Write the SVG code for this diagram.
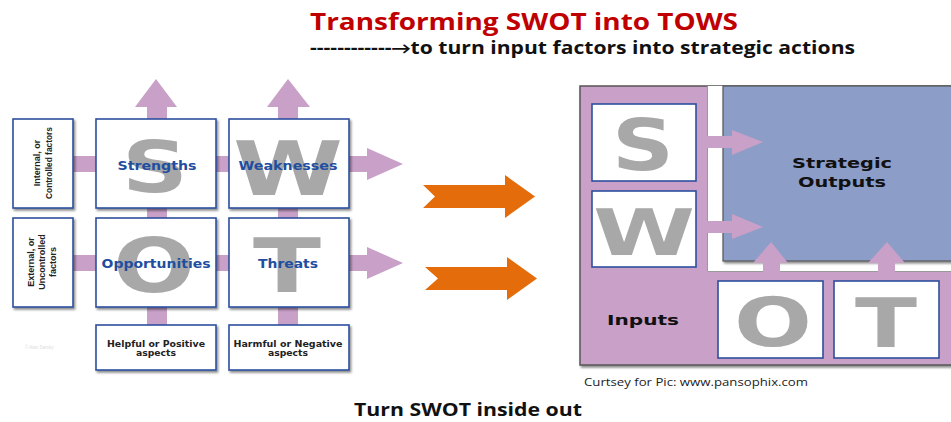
<svg xmlns="http://www.w3.org/2000/svg" width="951" height="422" viewBox="0 0 951 422">
<defs>
<filter id="sh" x="-10%" y="-10%" width="125%" height="125%">
<feDropShadow dx="1.5" dy="2" stdDeviation="1.2" flood-color="#000" flood-opacity="0.45"/>
</filter>
<style>
.box{fill:#fff;stroke:#2e4f9e;stroke-width:1.6}
.pur{fill:#c8a0c8}
.org{fill:#e46c0a}
.big{font-family:"DejaVu Sans",Verdana,sans-serif;font-weight:bold;fill:#a8a8a8;text-anchor:middle}
.lbl{font-family:"DejaVu Sans",Verdana,sans-serif;font-weight:bold;fill:#1f4ea0;font-size:13px;text-anchor:middle}
.sm{font-family:"DejaVu Sans",Verdana,sans-serif;font-weight:bold;fill:#222;font-size:8px;text-anchor:middle}
.vt{font-family:"Liberation Sans",Arial,sans-serif;font-weight:bold;fill:#222;font-size:9px;text-anchor:middle}
.rt{font-family:"DejaVu Sans",Verdana,sans-serif;font-weight:bold;fill:#111;font-size:14px;text-anchor:middle}
.hd{font-family:"Open Sans",Calibri,sans-serif;font-weight:bold}
</style>
</defs>
<rect width="951" height="422" fill="#fff"/>

<!-- titles -->
<text class="hd" x="310" y="30" font-size="23" fill="#c00000" textLength="428" lengthAdjust="spacingAndGlyphs">Transforming SWOT into TOWS</text>
<text class="hd" x="310" y="54" font-size="17" fill="#111" textLength="545" lengthAdjust="spacingAndGlyphs">------------→to turn input factors into strategic actions</text>

<!-- left SWOT connectors -->
<g id="connectors-left">
<rect class="pur" x="60" y="156" width="308" height="16"/>
<polygon class="pur" points="367,148 403,164 367,180"/>
<rect class="pur" x="60" y="255" width="308" height="16"/>
<polygon class="pur" points="367,247 403,263 367,279"/>
<rect class="pur" x="147" y="106" width="20" height="222"/>
<polygon class="pur" points="135,107 156,79 177,107"/>
<rect class="pur" x="278" y="106" width="20" height="222"/>
<polygon class="pur" points="267,107 288,79 310,107"/>
</g>

<g id="internal">
<rect class="box" x="13" y="119" width="60" height="89" filter="url(#sh)"/>
<text class="vt" transform="translate(43,163) rotate(-90)"><tspan x="0" y="-3">Internal, or</tspan><tspan x="0" y="9" textLength="72" lengthAdjust="spacingAndGlyphs">Controlled factors</tspan></text>
</g>
<g id="external">
<rect class="box" x="13" y="218" width="60" height="89" filter="url(#sh)"/>
<text class="vt" transform="translate(43,262) rotate(-90)"><tspan x="0" y="-9">External, or</tspan><tspan x="0" y="2">Uncontrolled</tspan><tspan x="0" y="13">factors</tspan></text>
</g>
<g id="strengths">
<rect class="box" x="96" y="119" width="120" height="89" filter="url(#sh)"/>
<text class="big" x="155" y="192" font-size="71" textLength="66" lengthAdjust="spacingAndGlyphs">S</text>
<text class="lbl" x="157" y="170" textLength="79" lengthAdjust="spacingAndGlyphs">Strengths</text>
</g>
<g id="weaknesses">
<rect class="box" x="229" y="119" width="120" height="89" filter="url(#sh)"/>
<text class="big" x="288" y="195" font-size="75" textLength="110" lengthAdjust="spacingAndGlyphs">W</text>
<text class="lbl" x="288" y="170" textLength="99" lengthAdjust="spacingAndGlyphs">Weaknesses</text>
</g>
<g id="opportunities">
<rect class="box" x="96" y="218" width="120" height="89" filter="url(#sh)"/>
<text class="big" x="154" y="292" font-size="75" textLength="82" lengthAdjust="spacingAndGlyphs">O</text>
<text class="lbl" x="156" y="268" textLength="109" lengthAdjust="spacingAndGlyphs">Opportunities</text>
</g>
<g id="threats">
<rect class="box" x="229" y="218" width="120" height="89" filter="url(#sh)"/>
<text class="big" x="287" y="292" font-size="74" textLength="68" lengthAdjust="spacingAndGlyphs">T</text>
<text class="lbl" x="288" y="268" textLength="60" lengthAdjust="spacingAndGlyphs">Threats</text>
</g>
<g id="helpful">
<rect class="box" x="96" y="325" width="120" height="45" filter="url(#sh)"/>
<text class="sm" x="156" y="346.5" textLength="98" lengthAdjust="spacingAndGlyphs">Helpful or Positive</text>
<text class="sm" x="156" y="355.5" textLength="40" lengthAdjust="spacingAndGlyphs">aspects</text>
</g>
<g id="harmful">
<rect class="box" x="229" y="325" width="120" height="45" filter="url(#sh)"/>
<text class="sm" x="288" y="346.5" textLength="109" lengthAdjust="spacingAndGlyphs">Harmful or Negative</text>
<text class="sm" x="288" y="355.5" textLength="40" lengthAdjust="spacingAndGlyphs">aspects</text>
</g>
<text x="25" y="349" font-family="Liberation Sans,Arial,sans-serif" font-size="4.5" fill="#dddddd">© Alan Sarsby</text>

<!-- orange arrows -->
<g id="orange-arrows">
<polygon class="org" points="423,185 505,185 505,175 535,196.5 505,218 505,208 423,208 435,196.5"/>
<polygon class="org" points="425,267 507,267 507,257 537,278.5 507,300 507,290 425,290 438,278.5"/>
</g>

<!-- right TOWS diagram -->
<g id="inputs">
<rect x="580" y="86" width="380" height="279" fill="#c8a0c8" stroke="#555" stroke-width="1.5" filter="url(#sh)"/>
<text class="rt" x="643" y="325" textLength="72" lengthAdjust="spacingAndGlyphs">Inputs</text>
</g>
<g id="strategic-outputs">
<rect x="707" y="86" width="260" height="186" fill="#fff"/>
<path d="M707.5,86 V271.5 H951" fill="none" stroke="#999" stroke-width="1"/>
<rect x="723" y="86" width="240" height="175" fill="#8c9dc8" stroke="#555" stroke-width="1.2" filter="url(#sh)"/>
<text class="rt" x="842" y="168" textLength="100" lengthAdjust="spacingAndGlyphs">Strategic</text>
<text class="rt" x="842" y="187" textLength="88" lengthAdjust="spacingAndGlyphs">Outputs</text>
</g>
<g id="connectors-right">
<rect class="pur" x="695" y="136" width="38" height="12"/>
<polygon class="pur" points="732,130 763,142 732,155"/>
<rect class="pur" x="695" y="221" width="38" height="12"/>
<polygon class="pur" points="732,214 763,227 732,239"/>
<rect class="pur" x="763" y="262" width="17" height="20"/>
<polygon class="pur" points="753,263 771,242 788,263"/>
<rect class="pur" x="878" y="262" width="17" height="20"/>
<polygon class="pur" points="868,263 887,242 905,263"/>
</g>
<g id="s-box">
<rect class="box" x="592" y="104" width="104" height="77"/>
<text class="big" x="643" y="170" font-size="72" textLength="62" lengthAdjust="spacingAndGlyphs">S</text>
</g>
<g id="w-box">
<rect class="box" x="592" y="191" width="104" height="76"/>
<text class="big" x="644" y="255" font-size="64" textLength="102" lengthAdjust="spacingAndGlyphs">W</text>
</g>
<g id="o-box">
<rect class="box" x="718" y="281" width="105" height="77"/>
<text class="big" x="773" y="346" font-size="68" textLength="78" lengthAdjust="spacingAndGlyphs">O</text>
</g>
<g id="t-box">
<rect class="box" x="834" y="281" width="105" height="77"/>
<text class="big" x="886" y="347" font-size="67" textLength="62" lengthAdjust="spacingAndGlyphs">T</text>
</g>

<text x="584" y="386" font-family="Open Sans,Verdana,sans-serif" font-size="11.5" fill="#222" textLength="224" lengthAdjust="spacingAndGlyphs">Curtsey for Pic: www.pansophix.com</text>
<text class="hd" x="354" y="416" font-size="17" fill="#111" textLength="228" lengthAdjust="spacingAndGlyphs">Turn SWOT inside out</text>
</svg>
